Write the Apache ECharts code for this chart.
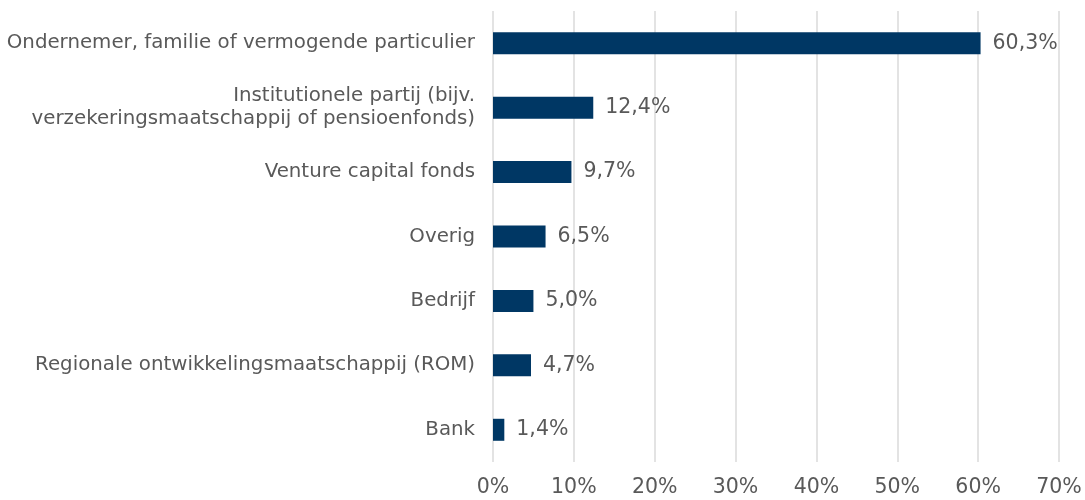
<!DOCTYPE html>
<html>
<head>
<meta charset="utf-8">
<script src="https://cdn.jsdelivr.net/npm/echarts@6/dist/echarts.min.js"></script>
<style>
  html, body { margin: 0; padding: 0; background: #fff; }
  #chart { width: 1085px; height: 500px; }
</style>
</head>
<body>
<div id="chart"></div>
<script>
// categorieën van boven naar beneden
const categories = [
    'Ondernemer, familie of vermogende particulier',
    'Institutionele partij (bijv.\nverzekeringsmaatschappij of pensioenfonds)',
    'Venture capital fonds',
    'Overig',
    'Bedrijf',
    'Regionale ontwikkelingsmaatschappij (ROM)',
    'Bank'
];
const values = [60.3, 12.4, 9.7, 6.5, 5.0, 4.7, 1.4];

const textColor = '#595959';
const font = '"DejaVu Sans", Verdana, sans-serif';

const chart = echarts.init(document.getElementById('chart'));

chart.setOption({
    animation: false,
    grid: { left: 493, right: 26, top: 11, bottom: 38, containLabel: false },
    xAxis: {
        type: 'value',
        min: 0,
        max: 70,
        interval: 10,
        axisLine: { show: false },
        axisTick: { show: false },
        splitLine: { lineStyle: { color: '#e3e3e3', width: 2 } },
        axisLabel: {
            formatter: '{value}%',
            color: textColor,
            fontFamily: font,
            fontSize: 20.5,
            margin: 15
        }
    },
    yAxis: {
        type: 'category',
        inverse: true,
        data: categories,
        axisLine: { show: false },
        axisTick: { show: false },
        axisLabel: {
            color: textColor,
            fontFamily: font,
            fontSize: 19.8,
            margin: 18,
            align: 'right',
            lineHeight: 23
        }
    },
    series: [{
        type: 'bar',
        data: values,
        barWidth: 22,
        itemStyle: { color: '#003764' },
        label: {
            show: true,
            position: 'right',
            distance: 12,
            color: textColor,
            fontFamily: font,
            fontSize: 20.5,
            formatter: p => p.value.toFixed(1).replace('.', ',') + '%'
        }
    }]
});
</script>
</body>
</html>
